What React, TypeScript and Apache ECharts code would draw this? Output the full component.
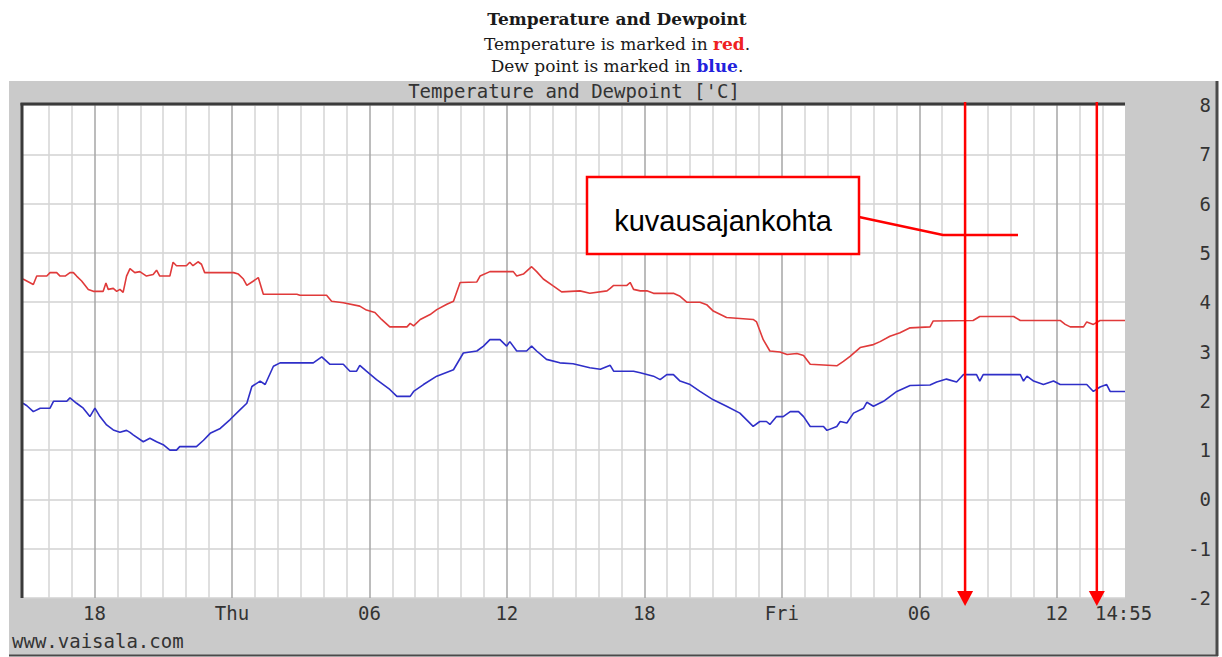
import React, { useEffect, useRef } from "react";
import * as echarts from "echarts";

// x axis: hours since Wednesday 00:00
const X_MIN = 14.88;
const X_MAX = 62.98;
const majorHours = [18, 24, 30, 36, 42, 48, 54, 60];
const majorLabels = ["18", "Thu", "06", "12", "18", "Fri", "06", "12"];
const endHour = 62.917;
const endLabel = "14:55";
const Y_MIN = -2;
const Y_MAX = 8;
const captureHours = [56.0, 61.75];

const temperature: [number, number][] = [
  [14.88, 4.47], [15.33, 4.36], [15.48, 4.53], [15.92, 4.53], [16.06, 4.6], [16.35, 4.6],
  [16.5, 4.53], [16.72, 4.53], [16.93, 4.6], [17.08, 4.6], [17.22, 4.53], [17.44, 4.43],
  [17.73, 4.26], [17.95, 4.22], [18.38, 4.22], [18.5, 4.39], [18.6, 4.26], [18.82, 4.28],
  [18.97, 4.22], [19.11, 4.26], [19.25, 4.2], [19.4, 4.53], [19.55, 4.68], [19.76, 4.6],
  [19.98, 4.62], [20.27, 4.53], [20.56, 4.56], [20.71, 4.65], [20.85, 4.53], [21.29, 4.53],
  [21.43, 4.81], [21.58, 4.74], [22.01, 4.74], [22.16, 4.81], [22.3, 4.74], [22.52, 4.82],
  [22.67, 4.77], [22.81, 4.6], [24.07, 4.6], [24.28, 4.57], [24.5, 4.47], [24.65, 4.34],
  [24.94, 4.43], [25.15, 4.5], [25.37, 4.16], [26.83, 4.16], [26.97, 4.14], [28.13, 4.14],
  [28.35, 4.02], [28.86, 3.99], [29.58, 3.92], [29.87, 3.84], [30.24, 3.79], [30.53, 3.65],
  [30.89, 3.5], [31.64, 3.5], [31.78, 3.57], [31.93, 3.52], [32.22, 3.65], [32.65, 3.75],
  [32.94, 3.85], [33.38, 3.96], [33.67, 4.02], [33.96, 4.4], [34.69, 4.41], [34.83, 4.53],
  [35.26, 4.62], [36.28, 4.62], [36.43, 4.53], [36.72, 4.57], [37.08, 4.72], [37.3, 4.62],
  [37.59, 4.47], [38.02, 4.33], [38.39, 4.21], [39.19, 4.23], [39.62, 4.18], [40.37, 4.23],
  [40.51, 4.28], [40.66, 4.34], [41.24, 4.34], [41.38, 4.4], [41.53, 4.26], [41.82, 4.23],
  [42.11, 4.23], [42.4, 4.18], [43.27, 4.18], [43.56, 4.12], [43.85, 4.0], [44.43, 4.0],
  [44.72, 3.95], [45.01, 3.82], [45.59, 3.69], [46.75, 3.65], [46.9, 3.6], [47.19, 3.24],
  [47.48, 3.01], [47.92, 2.99], [48.23, 2.94], [48.66, 2.96], [48.95, 2.92], [49.24, 2.74],
  [50.4, 2.71], [50.69, 2.8], [50.98, 2.9], [51.42, 3.08], [52.0, 3.14], [52.29, 3.2],
  [52.72, 3.31], [53.16, 3.38], [53.6, 3.48], [54.47, 3.5], [54.61, 3.62], [56.35, 3.63],
  [56.64, 3.71], [58.12, 3.71], [58.41, 3.63], [60.15, 3.63], [60.37, 3.55], [60.59, 3.5],
  [61.17, 3.5], [61.31, 3.6], [61.6, 3.55], [61.89, 3.63], [62.98, 3.63],
];

const dewpoint: [number, number][] = [
  [14.88, 1.95], [15.05, 1.9], [15.33, 1.78], [15.63, 1.85], [16.06, 1.85], [16.21, 1.99],
  [16.79, 1.99], [16.93, 2.06], [17.22, 1.95], [17.51, 1.85], [17.8, 1.68], [18.02, 1.85],
  [18.24, 1.68], [18.53, 1.51], [18.82, 1.41], [19.11, 1.36], [19.4, 1.4], [19.55, 1.36],
  [19.69, 1.31], [20.13, 1.17], [20.42, 1.24], [20.71, 1.17], [21.0, 1.11], [21.29, 1.0],
  [21.58, 1.0], [21.72, 1.07], [22.45, 1.07], [22.76, 1.2], [23.05, 1.34], [23.49, 1.44],
  [23.92, 1.62], [24.36, 1.82], [24.65, 1.95], [24.87, 2.29], [25.23, 2.4], [25.45, 2.33],
  [25.81, 2.7], [26.1, 2.77], [27.55, 2.77], [27.92, 2.89], [28.28, 2.74], [28.86, 2.74],
  [29.15, 2.6], [29.44, 2.6], [29.58, 2.72], [29.87, 2.6], [30.31, 2.43], [30.89, 2.23],
  [31.2, 2.09], [31.35, 2.09], [31.78, 2.09], [31.93, 2.19], [32.36, 2.33], [32.94, 2.5],
  [33.67, 2.63], [34.1, 2.97], [34.69, 3.01], [34.98, 3.11], [35.26, 3.24], [35.7, 3.24],
  [35.99, 3.11], [36.13, 3.2], [36.43, 3.01], [36.86, 3.01], [37.08, 3.11], [37.3, 3.01],
  [37.73, 2.84], [38.31, 2.77], [38.89, 2.75], [39.62, 2.67], [40.08, 2.64], [40.51, 2.72],
  [40.66, 2.6], [41.53, 2.6], [41.82, 2.57], [42.4, 2.5], [42.69, 2.43], [42.98, 2.53],
  [43.27, 2.53], [43.56, 2.4], [44.0, 2.33], [44.43, 2.19], [45.01, 2.02], [45.59, 1.89],
  [46.17, 1.75], [46.75, 1.48], [47.04, 1.58], [47.33, 1.58], [47.48, 1.52], [47.77, 1.68],
  [48.06, 1.68], [48.37, 1.78], [48.73, 1.78], [48.95, 1.68], [49.24, 1.48], [49.82, 1.48],
  [49.97, 1.4], [50.4, 1.48], [50.55, 1.58], [50.84, 1.55], [51.13, 1.75], [51.57, 1.85],
  [51.71, 1.97], [52.0, 1.89], [52.44, 1.99], [53.02, 2.19], [53.6, 2.31], [54.47, 2.32],
  [54.76, 2.38], [55.19, 2.44], [55.63, 2.38], [55.92, 2.53], [56.5, 2.53], [56.64, 2.4],
  [56.79, 2.53], [58.41, 2.53], [58.55, 2.4], [58.7, 2.5], [58.99, 2.4], [59.42, 2.33],
  [59.86, 2.4], [60.15, 2.33], [61.31, 2.33], [61.6, 2.19], [61.89, 2.28], [62.18, 2.33],
  [62.33, 2.19], [62.98, 2.19],
];

const minorHours: number[] = [];
for (let h = 16; h <= 62; h++) if (h % 6 !== 0) minorHours.push(h);

const MONO = '"DejaVu Sans Mono", monospace';
const SERIF = '"DejaVu Serif", serif';
const RED = "#ff0000";

export default function App() {
  const ref = useRef<HTMLDivElement>(null);

  useEffect(() => {
    if (!ref.current) return;
    const chart = echarts.init(ref.current, null, { renderer: "svg" });

    const option: any = {
      animation: false,
      backgroundColor: "#ffffff",
      grid: {
        left: 23,
        right: 97,
        top: 105,
        bottom: 59,
        show: true,
        backgroundColor: "#ffffff",
        borderWidth: 0,
      },
      xAxis: [
        {
          type: "value",
          min: X_MIN,
          max: X_MAX,
          position: "bottom",
          axisLine: { show: false },
          axisTick: { show: false, customValues: majorHours },
          splitLine: { show: true, lineStyle: { color: "#a6a6a6", width: 1.5 } },
          axisLabel: {
            customValues: [...majorHours, endHour],
            formatter: (v: number) => {
              if (Math.abs(v - endHour) < 0.01) return endLabel;
              const i = majorHours.findIndex((h) => Math.abs(h - v) < 0.01);
              return i >= 0 ? majorLabels[i] : "";
            },
            color: "#333333",
            fontFamily: MONO,
            fontSize: 19,
            margin: 5,
          },
        },
        {
          type: "value",
          min: X_MIN,
          max: X_MAX,
          position: "bottom",
          axisLine: { show: false },
          axisTick: { show: false, customValues: minorHours },
          axisLabel: { show: false },
          splitLine: { show: true, lineStyle: { color: "#d4d4d4", width: 1.5 } },
        },
      ],
      yAxis: {
        type: "value",
        min: Y_MIN,
        max: Y_MAX,
        interval: 1,
        position: "right",
        axisLine: { show: false },
        axisTick: { show: false },
        splitLine: { show: true, lineStyle: { color: "#d2d2d2", width: 1.5 } },
        axisLabel: {
          align: "right",
          margin: 86,
          color: "#333333",
          fontFamily: MONO,
          fontSize: 19,
        },
      },
      series: [
        {
          name: "Temperature",
          type: "line",
          data: temperature,
          showSymbol: false,
          lineStyle: { color: "#e03a3a", width: 1.6 },
          itemStyle: { color: "#e03a3a" },
          z: 3,
        },
        {
          name: "Dew point",
          type: "line",
          data: dewpoint,
          showSymbol: false,
          lineStyle: { color: "#2f2fc8", width: 1.6 },
          itemStyle: { color: "#2f2fc8" },
          z: 3,
        },
      ],
    };
    chart.setOption(option);

    const yTop = chart.convertToPixel({ yAxisIndex: 0 }, Y_MAX) as number;
    const yBot = chart.convertToPixel({ yAxisIndex: 0 }, Y_MIN) as number;
    const xLeft = chart.convertToPixel({ xAxisIndex: 0 }, X_MIN) as number;
    const xRight = chart.convertToPixel({ xAxisIndex: 0 }, X_MAX) as number;

    const graphics: any[] = [
      // gray panel
      { type: "rect", z: -10, shape: { x: 9, y: 81, width: 1208, height: 575 }, style: { fill: "#cacaca" } },
      { type: "line", z: -9, shape: { x1: 1217, y1: 81, x2: 1217, y2: 656 }, style: { stroke: "#4a4a4a", lineWidth: 3 } },
      { type: "line", z: -9, shape: { x1: 9, y1: 655.5, x2: 1218, y2: 655.5 }, style: { stroke: "#4a4a4a", lineWidth: 2 } },
      // plot borders
      { type: "line", z: 5, shape: { x1: xLeft - 1, y1: yTop - 2, x2: xLeft - 1, y2: yBot }, style: { stroke: "#3a3a3a", lineWidth: 3 } },
      { type: "line", z: 5, shape: { x1: xLeft - 2.5, y1: yTop - 1, x2: xRight, y2: yTop - 1 }, style: { stroke: "#3a3a3a", lineWidth: 3 } },
      // header
      {
        type: "text", z: 5, x: (xLeft + xRight) / 2, y: 91,
        style: { text: "Temperature and Dewpoint ['C]", fontFamily: MONO, fontSize: 19, fill: "#333333", textAlign: "center", textVerticalAlign: "middle" },
      },
      {
        type: "text", z: 5, x: 12, y: 641,
        style: { text: "www.vaisala.com", fontFamily: MONO, fontSize: 19, fill: "#333333", textAlign: "left", textVerticalAlign: "middle" },
      },
      // titles
      {
        type: "text", z: 5, x: 617, y: 19,
        style: { text: "Temperature and Dewpoint", fontFamily: SERIF, fontSize: 17, fontWeight: "bold", fill: "#1a1a1a", textAlign: "center", textVerticalAlign: "middle" },
      },
      {
        type: "text", z: 5, x: 617, y: 44,
        style: {
          text: "{n|Temperature is marked in }{r|red}{n|.}",
          textAlign: "center", textVerticalAlign: "middle",
          rich: {
            n: { fontFamily: SERIF, fontSize: 17, fill: "#1a1a1a", color: "#1a1a1a" },
            r: { fontFamily: SERIF, fontSize: 17, fontWeight: "bold", fill: "#ee2222", color: "#ee2222" },
          },
        },
      },
      {
        type: "text", z: 5, x: 617, y: 66,
        style: {
          text: "{n|Dew point is marked in }{b|blue}{n|.}",
          textAlign: "center", textVerticalAlign: "middle",
          rich: {
            n: { fontFamily: SERIF, fontSize: 17, fill: "#1a1a1a", color: "#1a1a1a" },
            b: { fontFamily: SERIF, fontSize: 17, fontWeight: "bold", fill: "#2222dd", color: "#2222dd" },
          },
        },
      },
      // callout
      { type: "rect", z: 10, shape: { x: 587, y: 177, width: 272, height: 77 }, style: { fill: "#ffffff", stroke: RED, lineWidth: 2.5 } },
      {
        type: "text", z: 11, x: 723, y: 221,
        style: { text: "kuvausajankohta", fontFamily: '"Liberation Sans", Arial, sans-serif', fontSize: 29, fill: "#000000", textAlign: "center", textVerticalAlign: "middle" },
      },
      { type: "polyline", z: 10, shape: { points: [[859, 217], [943, 235], [1018, 235]] }, style: { stroke: RED, lineWidth: 2.5, fill: "none" } },
    ];

    captureHours.forEach((h) => {
      const x = chart.convertToPixel({ xAxisIndex: 0 }, h) as number;
      graphics.push({ type: "line", z: 10, shape: { x1: x, y1: yTop - 3, x2: x, y2: yBot - 4 }, style: { stroke: RED, lineWidth: 2.5 } });
      graphics.push({ type: "polygon", z: 10, shape: { points: [[x - 8, yBot - 7], [x + 8, yBot - 7], [x, yBot + 8]] }, style: { fill: RED } });
    });

    chart.setOption({ graphic: graphics });

    return () => chart.dispose();
  }, []);

  return <div ref={ref} style={{ position: "absolute", left: 0, top: 0, width: 1222, height: 657 }} />;
}
